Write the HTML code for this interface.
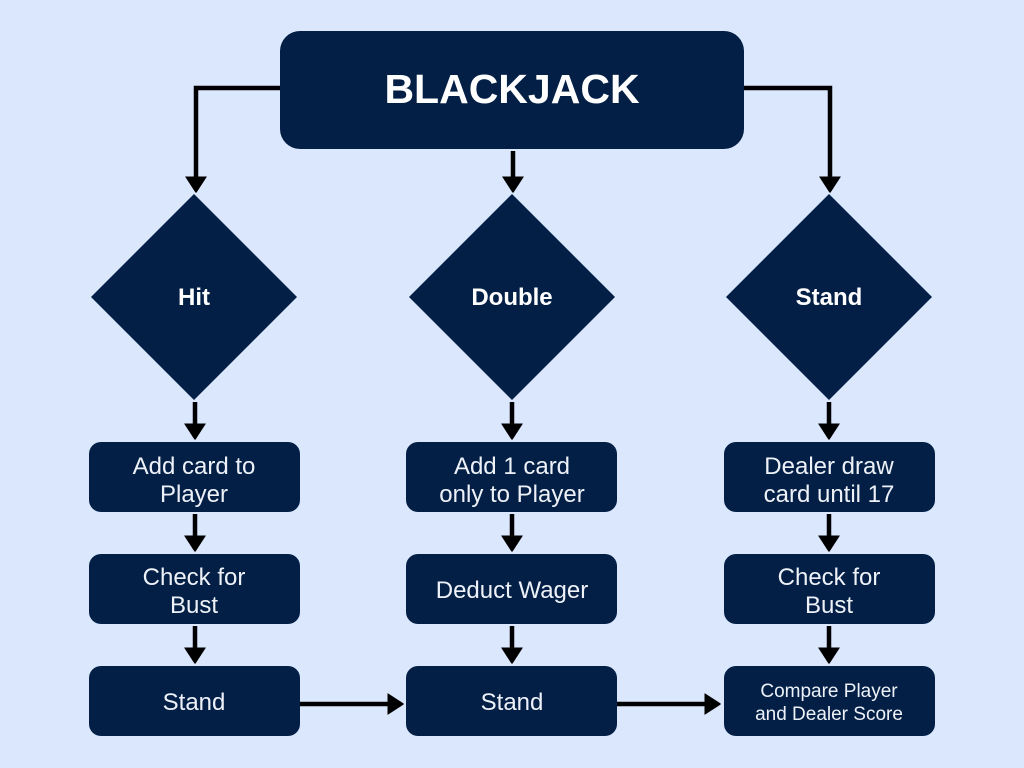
<!DOCTYPE html>
<html><head><meta charset="utf-8"><style>
html,body{margin:0;padding:0;background:#dae7fd;}
svg{display:block}
text{font-family:"Liberation Sans",sans-serif;fill:#fff;text-anchor:middle}
.b{font-size:24px;font-weight:300;fill:#eef2f8}
</style></head><body>
<svg width="1024" height="768" viewBox="0 0 1024 768">
<rect width="1024" height="768" fill="#dae7fd"/>
<defs>
<marker id="a" markerWidth="6" markerHeight="6" refX="3" refY="3" orient="auto" markerUnits="strokeWidth">
<path d="M0,0.8 L3.4,3 L0,5.2 Z" fill="#000" stroke="#000" stroke-width="0.4" stroke-linejoin="round"/>
</marker>
</defs>
<g stroke="#000" stroke-width="4.5" fill="none" marker-end="url(#a)">
<path d="M282,88 H196 V190"/>
<path d="M743,88 H830 V190"/>
<path d="M513,151 V190"/>
<path d="M195,402 V437"/><path d="M512,402 V437"/><path d="M829,402 V437"/>
<path d="M195,514 V549"/><path d="M512,514 V549"/><path d="M829,514 V549"/>
<path d="M195,626 V661"/><path d="M512,626 V661"/><path d="M829,626 V661"/>
<path d="M300,704 H401"/><path d="M617,704 H718"/>
</g>
<g fill="#031f46">
<rect x="280" y="31" width="464" height="118" rx="20"/>
<polygon points="194,194 297,297 194,400 91,297"/>
<polygon points="512,194 615,297 512,400 409,297"/>
<polygon points="829,194 932,297 829,400 726,297"/>
<rect x="89" y="442" width="211" height="70" rx="12"/>
<rect x="89" y="554" width="211" height="70" rx="12"/>
<rect x="89" y="666" width="211" height="70" rx="12"/>
<rect x="406" y="442" width="211" height="70" rx="12"/>
<rect x="406" y="554" width="211" height="70" rx="12"/>
<rect x="406" y="666" width="211" height="70" rx="12"/>
<rect x="724" y="442" width="211" height="70" rx="12"/>
<rect x="724" y="554" width="211" height="70" rx="12"/>
<rect x="724" y="666" width="211" height="70" rx="12"/>
</g>
<text x="512" y="103" style="font-size:41px;font-weight:bold">BLACKJACK</text>
<text x="194" y="305" style="font-size:24px;font-weight:bold">Hit</text>
<text x="512" y="305" style="font-size:24px;font-weight:bold">Double</text>
<text x="829" y="305" style="font-size:24px;font-weight:bold">Stand</text>
<text class="b" x="194" y="474">Add card to</text><text class="b" x="194" y="502">Player</text>
<text class="b" x="194" y="585">Check for</text><text class="b" x="194" y="613">Bust</text>
<text class="b" x="194" y="710">Stand</text>
<text class="b" x="512" y="474">Add 1 card</text><text class="b" x="512" y="502">only to Player</text>
<text class="b" x="512" y="598">Deduct Wager</text>
<text class="b" x="512" y="710">Stand</text>
<text class="b" x="829" y="474">Dealer draw</text><text class="b" x="829" y="502">card until 17</text>
<text class="b" x="829" y="585">Check for</text><text class="b" x="829" y="613">Bust</text>
<text x="829" y="697" style="font-size:19px;font-weight:300;fill:#eef2f8">Compare Player</text>
<text x="829" y="720" style="font-size:19px;font-weight:300;fill:#eef2f8">and Dealer Score</text>
</svg>
</body></html>
